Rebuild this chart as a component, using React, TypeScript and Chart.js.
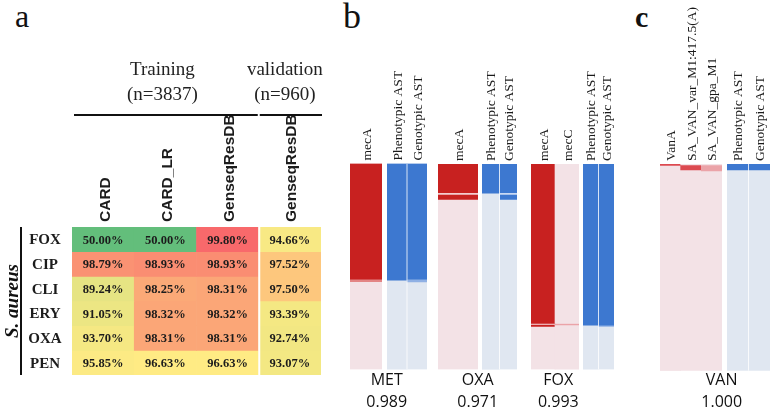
import React, { useEffect, useRef } from 'react';
import { Chart, registerables } from 'chart.js';

Chart.register(...registerables);

const SERIF = '"Liberation Serif", "Times New Roman", serif';
const SANS = '"Liberation Sans", Arial, sans-serif';
const LABEL_SANS = '"Open Sans", "Noto Sans", sans-serif';

// ---------------- Panel a : accuracy heatmap ----------------
const heatColumns = ['CARD', 'CARD_LR', 'GenseqResDB', 'GenseqResDB'];
const heatRows = ['FOX', 'CIP', 'CLI', 'ERY', 'OXA', 'PEN'];
const cardAcc = [50.0, 98.79, 89.24, 91.05, 93.7, 95.85];
const cardLrAcc = [50.0, 98.93, 98.25, 98.32, 98.31, 96.63];
const genseqTrainAcc = [99.8, 98.93, 98.31, 98.32, 98.31, 96.63];
const genseqValidAcc = [94.66, 97.52, 97.5, 93.39, 92.74, 93.07];
const cohortNames = ['Training', 'validation'];
const cohortSizes = [3837, 960];
const cohortColumnCounts = [3, 1];
const speciesName = 'S. aureus';

// ---------------- Panels b, c : share of isolates (%), segments top -> bottom ----------------
type Seg = [string, number];
const astColumns = ['Phenotypic AST', 'Genotypic AST'];

const metGenes = ['mecA'];
const metGeneSegs: Seg[][] = [[['R', 56.1], ['L', 1.3], ['S', 42.6]]];
const metAstSegs: Seg[][] = [
  [['R', 56.6], ['S', 43.4]],
  [['R', 56.1], ['L', 1.4], ['S', 42.5]],
];

const oxaGenes = ['mecA'];
const oxaGeneSegs: Seg[][] = [[['R', 14.0], ['W', 0.8], ['R', 2.4], ['S', 82.8]]];
const oxaAstSegs: Seg[][] = [
  [['R', 14.2], ['S', 85.8]],
  [['R', 14.0], ['W', 0.8], ['R', 2.4], ['S', 82.8]],
];

const foxGenes = ['mecA', 'mecC'];
const foxGeneSegs: Seg[][] = [
  [['R', 77.6], ['W', 0.5], ['R', 0.9], ['S', 21.0]],
  [['S', 77.6], ['M', 0.7], ['S', 21.7]],
];
const foxAstSegs: Seg[][] = [
  [['R', 78.4], ['S', 21.6]],
  [['R', 78.4], ['L', 0.6], ['S', 21.0]],
];

const vanGenes = ['VanA', 'SA_VAN_var_M1:417.5(A)', 'SA_VAN_gpa_M1'];
const vanGeneSegs: Seg[][] = [
  [['V', 0.7], ['S', 99.3]],
  [['S', 0.5], ['V', 2.4], ['S', 97.1]],
  [['S', 0.5], ['M', 2.9], ['S', 96.6]],
];
const vanAstSegs: Seg[][] = [
  [['R', 2.9], ['S', 97.1]],
  [['R', 2.9], ['S', 97.1]],
];

const drugNames = ['MET', 'OXA', 'FOX', 'VAN'];
const drugScores = [0.989, 0.971, 0.993, 1.0];

// ---------------- styles / layout ----------------
const genePalette: Record<string, string> = {
  R: '#c82120', S: '#f3e2e6', L: '#e38585', W: '#f3ccd0', M: '#eba3a8', V: '#dc4a50',
};
const astPalette: Record<string, string> = {
  R: '#3d78d0', S: '#e0e7f1', L: '#8fb0e4', W: '#c9d9f3',
};

const HEAT_MID = 96.63;
const LOW_RGB = [99, 190, 123];
const MID_RGB = [255, 235, 132];
const HIGH_RGB = [248, 105, 107];

const heatData = [cardAcc, cardLrAcc, genseqTrainAcc, genseqValidAcc];
const heatAll = heatData.flat();
const heatMin = Math.min(...heatAll);
const heatMax = Math.max(...heatAll);

function mix(a: number[], b: number[], t: number) {
  const c = a.map((v, i) => Math.round(v + (b[i] - v) * t));
  return `rgb(${c[0]},${c[1]},${c[2]})`;
}
function heatColor(v: number) {
  if (v <= HEAT_MID) return mix(LOW_RGB, MID_RGB, (v - heatMin) / (HEAT_MID - heatMin));
  return mix(MID_RGB, HIGH_RGB, (v - HEAT_MID) / (heatMax - HEAT_MID));
}

const heatPlugin = {
  id: 'heatDecor',
  afterDatasetsDraw(chart: any) {
    const { ctx } = chart;
    const x = chart.scales.x;
    const y = chart.scales.y;
    ctx.save();
    const step = x.getPixelForValue(1) - x.getPixelForValue(0);
    const split = x.getPixelForValue(cohortColumnCounts[0] - 1) + step / 2;
    ctx.fillStyle = '#ffffff';
    ctx.fillRect(split - 0.5, y.top, 2, y.bottom - y.top);

    // cell values
    ctx.fillStyle = '#1c1c1c';
    ctx.font = `bold 12.5px ${SERIF}`;
    ctx.textAlign = 'center';
    ctx.textBaseline = 'middle';
    heatRows.forEach((_, r) => {
      const meta = chart.getDatasetMeta(r);
      meta.data.forEach((el: any, c: number) => {
        ctx.fillText(`${heatData[c][r].toFixed(2)}%`, el.x, (el.y + el.base) / 2 + 1);
      });
    });

    // row labels
    ctx.font = `bold 15px ${SERIF}`;
    heatRows.forEach((row, r) => {
      ctx.fillText(row, 45, y.getPixelForValue(r + 0.5) + 1);
    });

    // column headers (rotated)
    ctx.font = `bold 15.5px ${SANS}`;
    ctx.textAlign = 'left';
    ctx.textBaseline = 'alphabetic';
    heatColumns.forEach((col, c) => {
      ctx.save();
      ctx.translate(x.getPixelForValue(c) + 1, y.top - 5);
      ctx.rotate(-Math.PI / 2);
      ctx.fillText(col, 0, 5.5);
      ctx.restore();
    });

    // cohort headers
    ctx.font = `19px ${SERIF}`;
    ctx.textAlign = 'center';
    ctx.textBaseline = 'middle';
    ctx.fillStyle = '#222';
    const cx1 = (x.left + split) / 2 - 3;
    const cx2 = (split + x.right) / 2 - 5;
    ctx.fillText(cohortNames[0], cx1, 70);
    ctx.fillText(`(n=${cohortSizes[0]})`, cx1, 95);
    ctx.fillText(cohortNames[1], cx2, 70);
    ctx.fillText(`(n=${cohortSizes[1]})`, cx2, 95);
    ctx.fillStyle = '#111';
    ctx.fillRect(x.left + 2, 114, split - 1 - (x.left + 2), 2);
    ctx.fillRect(split + 1, 114, x.right + 1 - (split + 1), 2);

    // species bracket
    ctx.fillRect(20, y.top, 2, y.bottom - y.top);
    ctx.save();
    ctx.translate(12.5, (y.top + y.bottom) / 2);
    ctx.rotate(-Math.PI / 2);
    ctx.font = `italic bold 19px ${SERIF}`;
    ctx.textAlign = 'center';
    ctx.textBaseline = 'alphabetic';
    ctx.fillText(speciesName, 0, 5.5);
    ctx.restore();

    ctx.restore();
  },
};

function makeHeatConfig(): any {
  const datasets = heatRows.map((row, r) => ({
    label: row,
    data: heatColumns.map(() => [r, r + 1]),
    backgroundColor: heatData.map((col) => heatColor(col[r])),
    borderWidth: 0,
    grouped: false,
    barPercentage: 1,
    categoryPercentage: 1,
  }));
  return {
    type: 'bar',
    data: { labels: heatColumns, datasets },
    options: {
      animation: false,
      responsive: false,
      maintainAspectRatio: false,
      layout: { padding: { left: 72, right: 9, top: 227, bottom: 33 } },
      plugins: { legend: { display: false }, tooltip: { enabled: false } },
      scales: {
        x: { display: false },
        y: { type: 'linear', display: false, min: 0, max: heatRows.length, reverse: true },
      },
    },
    plugins: [heatPlugin],
  };
}

function blockPlugin(columns: string[], separator: boolean) {
  return {
    id: 'blockDecor',
    afterDatasetsDraw(chart: any) {
      const { ctx } = chart;
      const x = chart.scales.x;
      const y = chart.scales.y;
      ctx.save();
      if (separator) {
        ctx.fillStyle = 'rgba(255,255,255,0.8)';
        for (let c = 1; c < columns.length; c++) {
          const bx = (x.getPixelForValue(c - 1) + x.getPixelForValue(c)) / 2;
          ctx.fillRect(bx - 0.5, y.top, 1, y.bottom - y.top);
        }
      }
      ctx.fillStyle = '#1a1a1a';
      ctx.font = `13.5px ${SERIF}`;
      ctx.textAlign = 'left';
      ctx.textBaseline = 'alphabetic';
      columns.forEach((label, c) => {
        ctx.save();
        ctx.translate(x.getPixelForValue(c), y.top - 3);
        ctx.rotate(-Math.PI / 2);
        ctx.fillText(label, 0, 4.5);
        ctx.restore();
      });
      ctx.restore();
    },
  };
}

function makeBlockConfig(
  columns: string[],
  segs: Seg[][],
  palette: Record<string, string>,
  top: number,
  bottom: number,
  separator: boolean,
): any {
  const n = Math.max(...segs.map((s) => s.length));
  const datasets = Array.from({ length: n }, (_, j) => ({
    label: `segment ${j + 1}`,
    data: segs.map((s) => (s[j] ? s[j][1] : 0)),
    backgroundColor: segs.map((s) => palette[s[j] ? s[j][0] : 'S']),
    borderWidth: 0,
    barPercentage: 1,
    categoryPercentage: 1,
  }));
  return {
    type: 'bar',
    data: { labels: columns, datasets },
    options: {
      animation: false,
      responsive: false,
      maintainAspectRatio: false,
      layout: { padding: { left: 0, right: 0, top, bottom: 408 - bottom } },
      plugins: { legend: { display: false }, tooltip: { enabled: false } },
      scales: {
        x: { display: false, stacked: true },
        y: { display: false, stacked: true, min: 0, max: 100, reverse: true },
      },
    },
    plugins: [blockPlugin(columns, separator)],
  };
}

function ChartCanvas({ left, width, make }: { left: number; width: number; make: () => any }) {
  const ref = useRef<HTMLCanvasElement>(null);
  useEffect(() => {
    const chart = new Chart(ref.current as HTMLCanvasElement, make());
    return () => chart.destroy();
  }, []);
  return (
    <canvas
      ref={ref}
      width={width}
      height={408}
      style={{ position: 'absolute', left, top: 0, width, height: 408 }}
    />
  );
}

const blocks = [
  { left: 350, right: 382, top: 163.5, bottom: 369.5, cols: metGenes, segs: metGeneSegs, pal: genePalette, sep: false },
  { left: 387, right: 427, top: 163.5, bottom: 369.5, cols: astColumns, segs: metAstSegs, pal: astPalette, sep: true },
  { left: 438, right: 478, top: 164, bottom: 369.5, cols: oxaGenes, segs: oxaGeneSegs, pal: genePalette, sep: false },
  { left: 482, right: 517, top: 164, bottom: 369.5, cols: astColumns, segs: oxaAstSegs, pal: astPalette, sep: true },
  { left: 531, right: 579, top: 164, bottom: 369.5, cols: foxGenes, segs: foxGeneSegs, pal: genePalette, sep: false },
  { left: 583, right: 614, top: 164, bottom: 369.5, cols: astColumns, segs: foxAstSegs, pal: astPalette, sep: true },
  { left: 660, right: 722, top: 164, bottom: 370.7, cols: vanGenes, segs: vanGeneSegs, pal: genePalette, sep: false },
  { left: 727, right: 770, top: 164, bottom: 370.7, cols: astColumns, segs: vanAstSegs, pal: astPalette, sep: true },
];
const drugLabelCenters = [386.7, 477.7, 558.3, 721.7];

export default function App() {
  return (
    <div
      style={{
        position: 'absolute',
        left: 0,
        top: 0,
        width: 772,
        height: 408,
        background: '#ffffff',
        overflow: 'hidden',
      }}
    >
      <div style={{ position: 'absolute', left: 15, top: 0, font: `32px/1 ${SERIF}`, color: '#111' }}>a</div>
      <div style={{ position: 'absolute', left: 343, top: -2, font: `36px/1 ${SERIF}`, color: '#111' }}>b</div>
      <div style={{ position: 'absolute', left: 635, top: 2, font: `bold 30px/1 ${SERIF}`, color: '#111' }}>c</div>

      <ChartCanvas left={0} width={330} make={makeHeatConfig} />
      {blocks.map((b, i) => (
        <ChartCanvas
          key={i}
          left={b.left}
          width={b.right - b.left}
          make={() => makeBlockConfig(b.cols, b.segs, b.pal, b.top, b.bottom, b.sep)}
        />
      ))}

      {drugNames.map((d, i) => (
        <React.Fragment key={d}>
          <div
            style={{
              position: 'absolute',
              left: drugLabelCenters[i] - 40,
              width: 80,
              top: 370.5,
              textAlign: 'center',
              font: `16px/1 ${LABEL_SANS}`,
              color: '#111',
            }}
          >
            {d}
          </div>
          <div
            style={{
              position: 'absolute',
              left: drugLabelCenters[i] - 40,
              width: 80,
              top: 393.3,
              textAlign: 'center',
              font: `16px/1 ${LABEL_SANS}`,
              color: '#111',
            }}
          >
            {drugScores[i].toFixed(3)}
          </div>
        </React.Fragment>
      ))}
    </div>
  );
}
